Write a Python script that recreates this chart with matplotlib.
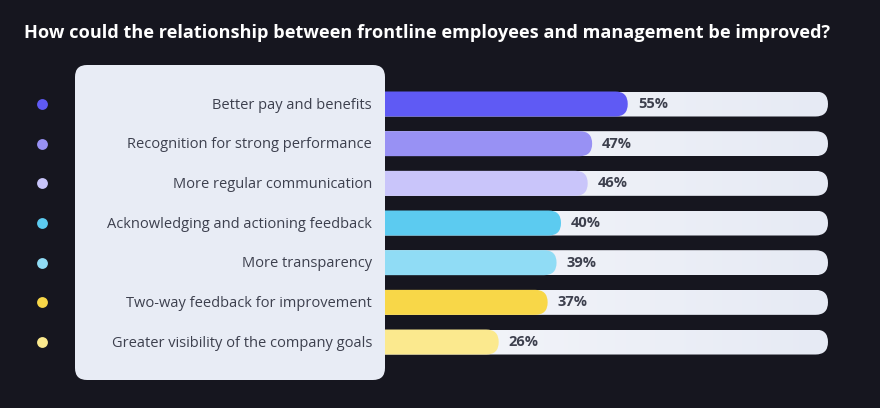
import matplotlib
matplotlib.use("Agg")
import matplotlib.pyplot as plt
import numpy as np
from matplotlib.patches import FancyBboxPatch
from matplotlib.transforms import blended_transform_factory
from matplotlib.colors import LinearSegmentedColormap

plt.rcParams['font.family'] = ['Open Sans', 'Noto Sans', 'DejaVu Sans']

title = "How could the relationship between frontline employees and management be improved?"
categories = [
    "Better pay and benefits",
    "Recognition for strong performance",
    "More regular communication",
    "Acknowledging and actioning feedback",
    "More transparency",
    "Two-way feedback for improvement",
    "Greater visibility of the company goals",
]
values = [55, 47, 46, 40, 39, 37, 26]
colors = ["#5f5af4", "#9891f4", "#c9c5fa", "#5ccbf0", "#90dcf5", "#f8d748", "#fbe98e"]

W, H = 880, 408
BG = "#16161f"
PANEL = "#e8ecf5"
TEXT = "#3d404e"

fig = plt.figure(figsize=(W / 100, H / 100), dpi=100, facecolor=BG)

x0px, x1px = 383, 828
step = 39.67
top_px = 104 - step / 2
n = len(categories)
ax = fig.add_axes([x0px / W, 1 - (top_px + n * step) / H, (x1px - x0px) / W, n * step / H])
ax.set_zorder(1)
ax.axis("off")

px_x = (x1px - x0px) / 100.0
px_y = step
bar_h_px = 25
bh = bar_h_px / px_y
r = (bar_h_px / 2) / px_x
start = -4  # hidden under the panel

grad = np.linspace(0, 1, 256).reshape(1, -1)
tcmap = LinearSegmentedColormap.from_list("t", ["#f6f7fb", "#e6eaf4"])

for i, (v, c) in enumerate(zip(values, colors)):
    track = FancyBboxPatch((start, i - bh / 2), 100 - start, bh,
                           boxstyle=f"round,pad=0,rounding_size={r}",
                           mutation_aspect=px_x / px_y,
                           facecolor="none", edgecolor="none")
    ax.add_patch(track)
    im = ax.imshow(grad, cmap=tcmap, extent=(start, 100, i + bh / 2, i - bh / 2),
                   aspect="auto", zorder=1)
    im.set_clip_path(track)
    bar = FancyBboxPatch((start, i - bh / 2), v - start, bh,
                         boxstyle=f"round,pad=0,rounding_size={r}",
                         mutation_aspect=px_x / px_y,
                         facecolor=c, edgecolor="none", zorder=2)
    ax.add_patch(bar)
    ax.text(v + 10 / px_x, i, f"{v}%", ha="left", va="center",
            fontsize=10.5, fontweight="bold", color=TEXT, zorder=3)

ax.set_xlim(0, 100)
ax.set_ylim(n - 0.5, -0.5)

ov = fig.add_axes([0, 0, 1, 1])
ov.set_zorder(2)
ov.patch.set_visible(False)
ov.set_xlim(0, W)
ov.set_ylim(H, 0)
ov.axis("off")

panel = FancyBboxPatch((75, 65), 310, 315, boxstyle="round,pad=0,rounding_size=12",
                       facecolor=PANEL, edgecolor="none")
ov.add_patch(panel)

bt = blended_transform_factory(ov.transData, ax.transData)
for i, (lab, c) in enumerate(zip(categories, colors)):
    ov.text(372, i + 0.03, lab, transform=bt, ha="right", va="center",
            fontsize=10.5, color=TEXT)
    ov.plot([42], [i], marker="o", markersize=7.8, color=c,
            markeredgewidth=0, transform=bt)

ov.text(24, 33, title, ha="left", va="center", fontsize=13.1,
        fontweight="bold", color="white")

fig.savefig("out.png", dpi=100, facecolor=BG)
